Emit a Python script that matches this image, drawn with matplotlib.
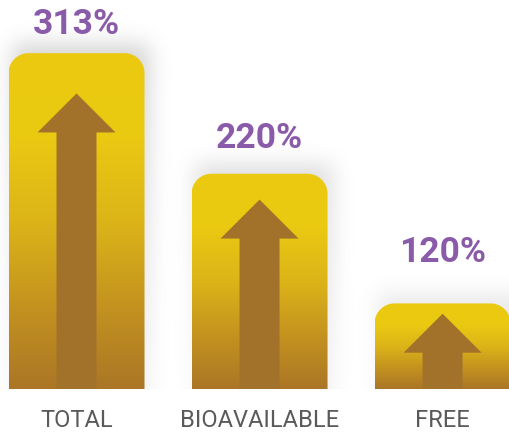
import numpy as np
import matplotlib.pyplot as plt
from matplotlib.path import Path
from matplotlib.patches import PathPatch, Polygon
from matplotlib.colors import LinearSegmentedColormap

categories = ["TOTAL", "BIOAVAILABLE", "FREE"]
values = [313, 220, 120]
value_labels = ["313%", "220%", "120%"]

W, H, DPI = 509, 434, 100
BASE, TOP = 54, 354
BAR_W = 0.743
RADIUS = 20          # px, top corners
HEAD_W, HEAD_H, SHAFT_W = 78, 39, 40   # px, arrow geometry
LABEL_GAP = [19, 26, 41]               # px between bar top and value label

bar_cmap = LinearSegmentedColormap.from_list(
    "gold", ["#ab7626", "#c4931f", "#dcb418", "#eac912", "#ecca11"])
arrow_color = "#a2722b"
value_color = "#8a5ba8"
cat_color = "#5a5a5a"

fig = plt.figure(figsize=(W / DPI, H / DPI), dpi=DPI)
ax = fig.add_axes([0, 45 / H, 1, 389 / H])
ax.set_xlim(-0.418, 2.363)
ax.set_ylim(BASE, TOP)
ax.axis("off")
fig.canvas.draw()

to_px = ax.transData
to_data = ax.transData.inverted()

# soft shadow behind the bars, built in pixel space of the axes
bb = ax.bbox
aw, ah = int(round(bb.width)), int(round(bb.height))
mask = np.zeros((ah, aw))
for i, v in enumerate(values):
    (x0, y0), (x1, y1) = to_px.transform([(i - BAR_W / 2, BASE), (i + BAR_W / 2, v)])
    c0, c1 = int(x0 - bb.x0) + 5, int(x1 - bb.x0) + 5
    r_top = int(ah - (y1 - bb.y0)) - 8
    mask[max(r_top, 0):, max(c0, 0):min(c1, aw)] = 1.0

def blur(a, sigma):
    k = np.arange(-3 * sigma, 3 * sigma + 1)
    g = np.exp(-k ** 2 / (2 * sigma ** 2))
    g /= g.sum()
    pad = len(k) // 2
    a = np.pad(a, pad, mode="edge")
    a = np.apply_along_axis(lambda m: np.convolve(m, g, mode="same"), 0, a)
    a = np.apply_along_axis(lambda m: np.convolve(m, g, mode="same"), 1, a)
    return a[pad:-pad, pad:-pad]

shadow = blur(mask, 11)
# fade the haze towards the baseline
fade = np.linspace(1.0, 0.3, ah)[:, None]
rgba = np.zeros((ah, aw, 4))
rgba[..., :3] = 0.35
rgba[..., 3] = shadow * 0.3 * fade
ax.imshow(rgba, extent=(*ax.get_xlim(), *ax.get_ylim()), origin="upper",
          aspect="auto", zorder=0, interpolation="bilinear")

def rounded_top(i, v):
    (x0, y0), (x1, y1) = to_px.transform([(i - BAR_W / 2, BASE), (i + BAR_W / 2, v)])
    t = np.linspace(0, np.pi / 2, 20)
    pts = [(x0, y0), (x1, y0)]
    pts += list(zip(x1 - RADIUS + RADIUS * np.cos(t), y1 - RADIUS + RADIUS * np.sin(t)))
    pts += list(zip(x0 + RADIUS - RADIUS * np.sin(t), y1 - RADIUS + RADIUS * np.cos(t)))
    pts.append((x0, y0))
    return Path(to_data.transform(pts), closed=True)

grad = np.linspace(1, 0, 256)[:, None]
for i, v in enumerate(values):
    patch = PathPatch(rounded_top(i, v), facecolor="none", edgecolor="none")
    ax.add_patch(patch)
    im = ax.imshow(grad, cmap=bar_cmap, vmin=0, vmax=1, aspect="auto",
                   extent=(i - BAR_W / 2, i + BAR_W / 2, BASE, v), zorder=2)
    im.set_clip_path(patch)

    # arrow inside the bar
    cx, y_base = to_px.transform((i, BASE))
    _, y_top = to_px.transform((i, v))
    tip = y_base + 0.88 * (y_top - y_base)
    neck = tip - HEAD_H
    arrow_px = [(cx - SHAFT_W / 2, y_base), (cx - SHAFT_W / 2, neck),
                (cx - HEAD_W / 2, neck), (cx, tip), (cx + HEAD_W / 2, neck),
                (cx + SHAFT_W / 2, neck), (cx + SHAFT_W / 2, y_base)]
    ax.add_patch(Polygon(to_data.transform(arrow_px), closed=True,
                         facecolor=arrow_color, edgecolor="none", zorder=3))

    ax.annotate(value_labels[i], (i, v), xytext=(0, LABEL_GAP[i]),
                textcoords="offset pixels", ha="center", va="baseline",
                fontsize=25.5, fontweight="bold", family="Roboto",
                color=value_color, annotation_clip=False, zorder=4)

    ax.annotate(categories[i], (i, BASE), xytext=(0, -38),
                textcoords="offset pixels", ha="center", va="baseline",
                fontsize=17, family="Roboto", color=cat_color,
                annotation_clip=False)

fig.savefig("out.png", dpi=DPI, facecolor="white")
